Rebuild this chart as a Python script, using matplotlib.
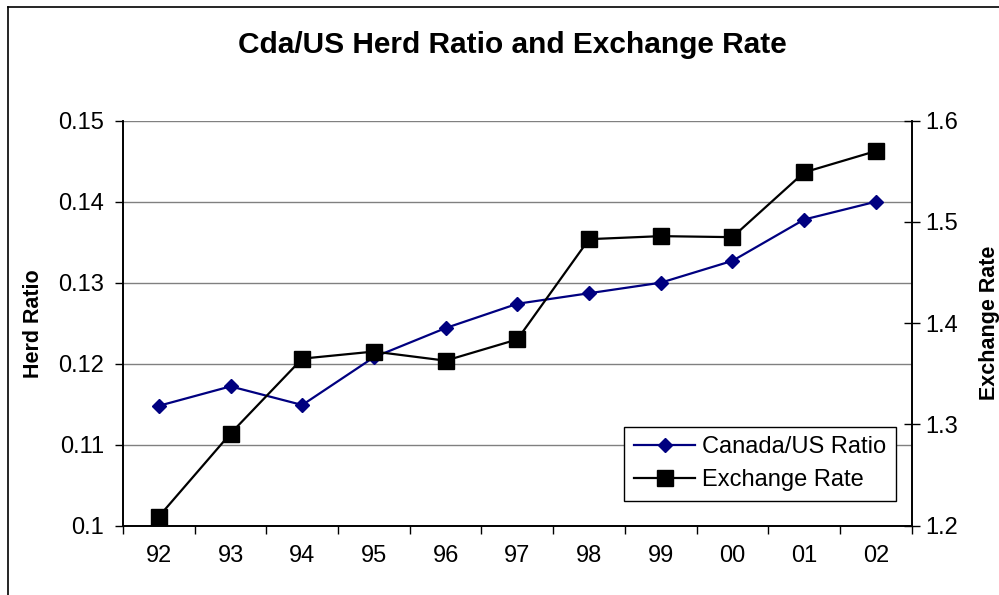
import matplotlib
matplotlib.use("Agg")
import matplotlib.pyplot as plt
from matplotlib.lines import Line2D

plt.rcParams['font.family'] = ['Liberation Sans', 'DejaVu Sans']

years = ["92", "93", "94", "95", "96", "97", "98", "99", "00", "01", "02"]
herd_ratio = [0.1148, 0.1172, 0.1149, 0.1208, 0.1244, 0.1274, 0.1287, 0.1300, 0.1327, 0.1378, 0.1400]
exch_rate = [1.209, 1.291, 1.365, 1.372, 1.363, 1.384, 1.483, 1.486, 1.485, 1.549, 1.570]

fig = plt.figure(figsize=(9.99, 5.95), dpi=100)
ax = fig.add_axes([0.1231, 0.1165, 0.7895, 0.6806])
ax2 = ax.twinx()

x = list(range(len(years)))

# grid lines (left axis)
ax.set_ylim(0.1, 0.15)
ax.set_yticks([0.1, 0.11, 0.12, 0.13, 0.14, 0.15])
ax.set_yticklabels(["0.1", "0.11", "0.12", "0.13", "0.14", "0.15"])
ax.yaxis.grid(True, color="#808080", linewidth=1)
ax.set_axisbelow(True)

ln1, = ax.plot(x, herd_ratio, color="#000080", lw=1.6, marker="D", ms=7.5,
               label="Canada/US Ratio", zorder=3)
ln2, = ax2.plot(x, exch_rate, color="black", lw=1.6, marker="s", ms=11,
                label="Exchange Rate", zorder=3)

ax.set_xlim(-0.5, len(years) - 0.5)
ax.set_xticks(x)
ax.set_xticklabels(years)
ax.set_xticks([i - 0.5 for i in range(len(years) + 1)], minor=True)
ax.tick_params(axis="x", which="major", length=0, pad=14, labelsize=17)
ax.tick_params(axis="x", which="minor", length=5.5, width=1, direction="out")
ax.tick_params(axis="y", length=5.5, width=1, direction="out", pad=8, labelsize=17)

ax2.set_ylim(1.2, 1.6)
ax2.set_yticks([1.2, 1.3, 1.4, 1.5, 1.6])
ax2.set_yticklabels(["1.2", "1.3", "1.4", "1.5", "1.6"])
ax2.tick_params(axis="y", length=12, width=1, direction="inout", pad=4, labelsize=17)

for a in (ax, ax2):
    a.spines["top"].set_visible(False)
    for s in ("left", "right", "bottom"):
        a.spines[s].set_color("black")
        a.spines[s].set_linewidth(1.2)

ax.set_ylabel("Herd Ratio", fontsize=15.5, fontweight="bold")
ax.yaxis.set_label_coords(-0.1, 0.5)
ax2.set_ylabel("Exchange Rate", fontsize=15.5, fontweight="bold")
ax2.yaxis.set_label_coords(1.0855, 0.5)

fig.text(0.5125, 1 - 45 / 595, "Cda/US Herd Ratio and Exchange Rate",
         ha="center", va="center", fontsize=21.5, fontweight="bold")

leg = ax2.legend(handles=[ln1, ln2], loc="upper right",
                 bbox_to_anchor=(0.980, 0.2437), fontsize=17, frameon=True,
                 fancybox=False, framealpha=1, edgecolor="black",
                 handlelength=2.6, borderpad=0.4, labelspacing=0.45,
                 handletextpad=0.3, borderaxespad=0)
leg.get_frame().set_linewidth(1)

# outer chart border (left and top edges visible)
fig.add_artist(Line2D([8 / 999, 8 / 999], [0, 1 - 7 / 595], color="black", lw=1.2))
fig.add_artist(Line2D([8 / 999, 1], [1 - 7 / 595, 1 - 7 / 595], color="black", lw=1.2))

fig.savefig("out.png", dpi=100)
